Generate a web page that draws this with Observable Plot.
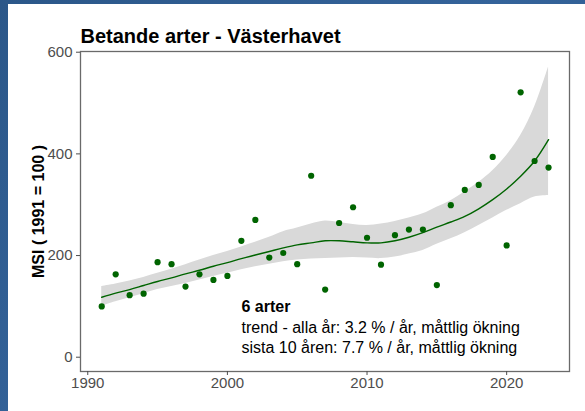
<!DOCTYPE html>
<html><head><meta charset="utf-8">
<script src="https://cdn.jsdelivr.net/npm/d3@7"></script>
<script src="https://cdn.jsdelivr.net/npm/@observablehq/plot@0.6"></script>
<style>
html,body{margin:0;padding:0;}
body{width:585px;height:411px;overflow:hidden;position:relative;background:linear-gradient(135deg,#2b5789 0%,#34639a 50%,#2a5688 100%);}
#bg{position:absolute;left:8px;top:4px;right:0;bottom:0;background:#fff;}
#chart{position:absolute;left:0;top:0;}
</style></head><body><div id="bg"></div><div id="chart"></div>
<script>
const titleText = "Betande arter - Västerhavet";
const yLabel = "MSI ( 1991 = 100 )";
const noteBold = "6 arter";
const noteLines = ["trend - alla år: 3.2 % / år, måttlig ökning", "sista 10 åren: 7.7 % / år, måttlig ökning"];
const xTicks = [1990, 2000, 2010, 2020];
const yTicks = [0, 200, 400, 600];

const years = [1991,1992,1993,1994,1995,1996,1997,1998,1999,2000,2001,2002,2003,2004,2005,2006,2007,2008,2009,2010,2011,2012,2013,2014,2015,2016,2017,2018,2019,2020,2021,2022,2023];
const msi   = [100,163,122,125,187,183,139,163,152,160,229,270,196,205,183,357,133,264,295,235,182,240,251,251,142,299,329,339,394,220,521,386,373];
const fit   = [118,126,133,141,149,156,164,171,179,186,194,201,208,215,221,225,229,229,227,225,225,229,236,245,256,266,277,292,310,331,356,386,428];
const lo    = [100,109,117,125,133,139,145,152,159,165,172,178,183,188,191,193,194,195,196,195,194,197,203,210,222,233,245,259,274,289,302,315,318];
const hi    = [139,144,150,157,165,173,182,191,200,208,217,226,236,247,254,262,268,265,261,259,262,267,274,282,295,308,325,344,367,397,436,492,571];

const rows = years.map((year, i) => ({year, msi: msi[i], fit: fit[i], lo: lo[i], hi: hi[i]}));
const green = "#006400";
const font = "'Liberation Sans', Arial, sans-serif";

const plot = Plot.plot({
  width: 585, height: 411,
  marginLeft: 80, marginRight: 16, marginTop: 51, marginBottom: 40,
  style: {background: "transparent", fontFamily: font, overflow: "visible"},
  x: {domain: [1989.48, 2024.5]},
  y: {domain: [-28.1, 601.4]},
  marks: [
    Plot.areaY(rows, {x: "year", y1: "lo", y2: "hi", fill: "#d9d9d9", curve: "catmull-rom"}),
    Plot.lineY(rows, {x: "year", y: "fit", stroke: green, strokeWidth: 1.4, curve: "catmull-rom"}),
    Plot.dot(rows, {x: "year", y: "msi", r: 3.1, fill: green}),
    Plot.frame({stroke: "#6a6a6a", strokeWidth: 1.3}),
    Plot.axisX({ticks: xTicks, tickFormat: d => String(d), tickSize: 4, tickPadding: 2, fontSize: 15, color: "#4d4d4d", label: null}),
    Plot.axisY({ticks: yTicks, tickFormat: d => String(d), tickSize: 4, tickPadding: 4, fontSize: 15, color: "#4d4d4d", label: null}),
    Plot.text([titleText], {frameAnchor: "top-left", dy: -9, lineAnchor: "bottom", textAnchor: "start", fontSize: 20, fontWeight: "bold", fill: "#000"}),
    Plot.text([yLabel], {frameAnchor: "left", dx: -42, rotate: -90, textAnchor: "middle", lineAnchor: "middle", fontSize: 16, fontWeight: "bold", fill: "#000"}),
    Plot.text([noteBold], {frameAnchor: "bottom-left", dx: 161, dy: -59.5, lineAnchor: "bottom", textAnchor: "start", fontSize: 16, fontWeight: "bold", fill: "#000"}),
    Plot.text([noteLines.join("\n")], {frameAnchor: "bottom-left", dx: 161, dy: -18.5, lineAnchor: "bottom", lineHeight: 1.28, textAnchor: "start", fontSize: 16, fill: "#000"})
  ]
});
document.getElementById("chart").appendChild(plot);
</script>
</body></html>
